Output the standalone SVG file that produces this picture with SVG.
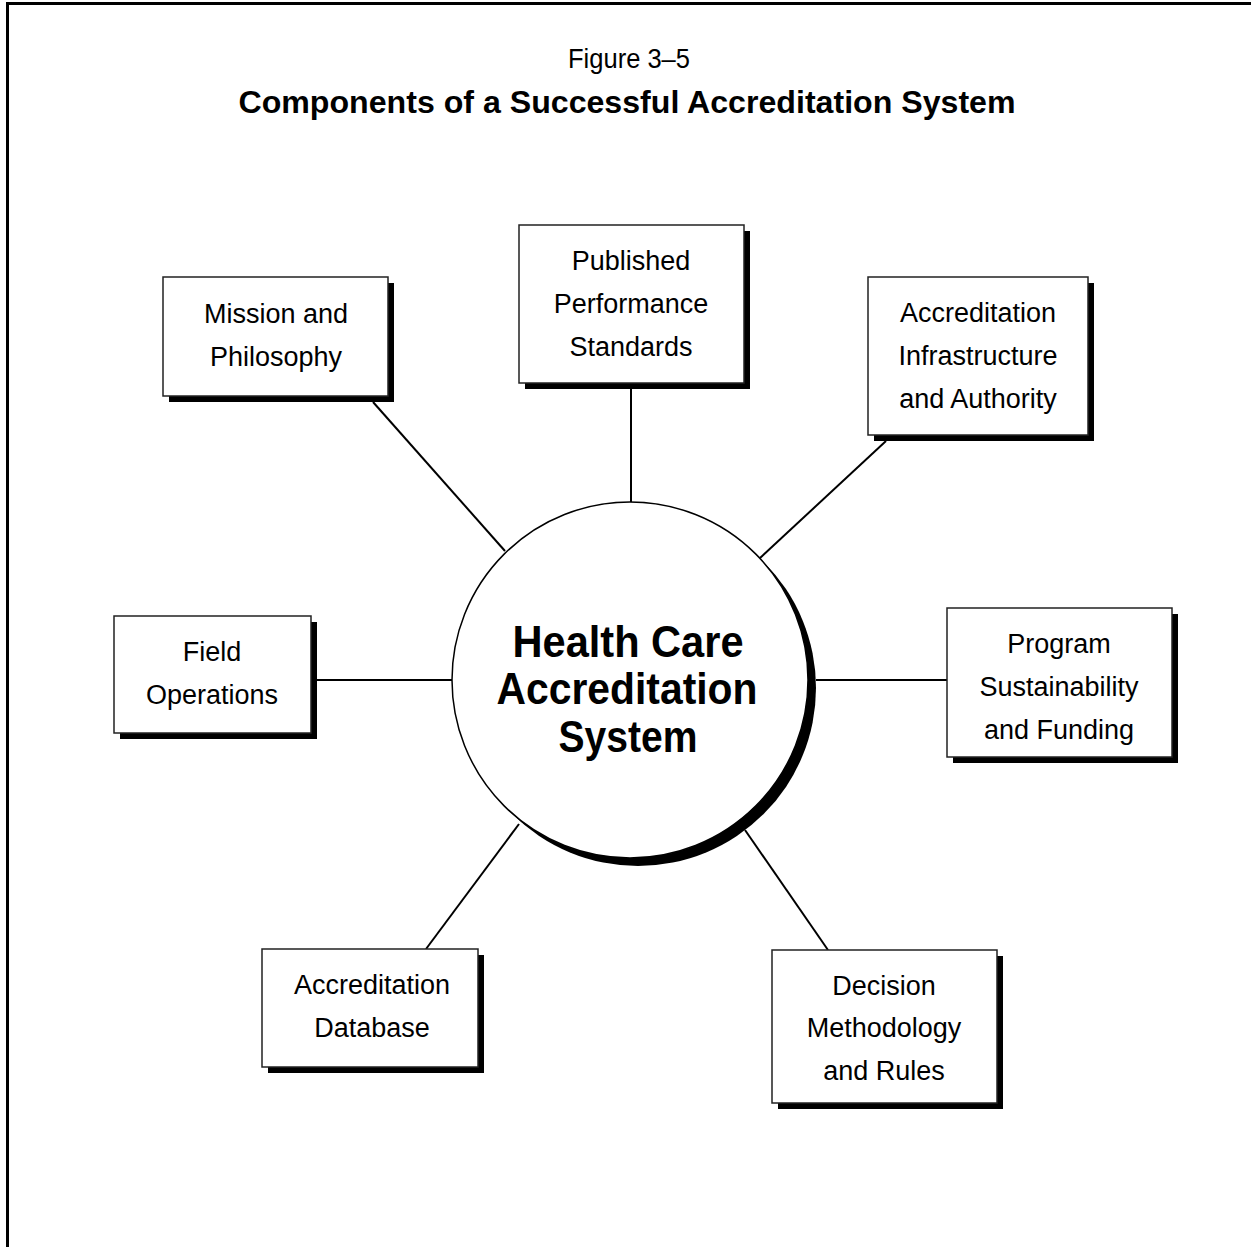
<svg xmlns="http://www.w3.org/2000/svg" width="1251" height="1247" viewBox="0 0 1251 1247">
<style>
.box{fill:#fff;stroke:#222;stroke-width:1.5}
.sh{fill:#000}
.t{font-family:"Liberation Sans",Arial,sans-serif;font-size:27px;fill:#000;text-anchor:middle}
.c{font-family:"Liberation Sans",Arial,sans-serif;font-size:45px;font-weight:bold;fill:#000;text-anchor:middle}
.conn line{stroke:#000;stroke-width:2}
</style>
<rect width="1251" height="1247" fill="#fff"/>
<g id="frame">
<line x1="6" y1="3.5" x2="1251" y2="3.5" stroke="#000" stroke-width="3"/>
<line x1="7.5" y1="2" x2="7.5" y2="1247" stroke="#000" stroke-width="3"/>
</g>
<g id="title">
<text x="629" y="68" class="t" font-size="26" textLength="122" lengthAdjust="spacingAndGlyphs">Figure 3–5</text>
<text x="627" y="113" class="t" style="font-weight:bold;font-size:31px" textLength="777" lengthAdjust="spacingAndGlyphs">Components of a Successful Accreditation System</text>
</g>
<g id="connectors" class="conn">
<line x1="373" y1="402" x2="505" y2="551"/>
<line x1="631" y1="389" x2="631" y2="502"/>
<line x1="886" y1="441" x2="760" y2="558"/>
<line x1="816" y1="680" x2="947" y2="680"/>
<line x1="316" y1="680" x2="452" y2="680"/>
<line x1="426" y1="949" x2="519" y2="824"/>
<line x1="828" y1="950" x2="745" y2="830"/>
</g>
<g id="center">
<circle cx="638" cy="688" r="178" fill="#000"/>
<circle cx="630" cy="680" r="178" fill="#fff" stroke="#000" stroke-width="1.5"/>
<text x="628" y="657" class="c" textLength="231" lengthAdjust="spacingAndGlyphs">Health Care</text>
<text x="627" y="704" class="c" textLength="261" lengthAdjust="spacingAndGlyphs">Accreditation</text>
<text x="628" y="752" class="c" textLength="139" lengthAdjust="spacingAndGlyphs">System</text>
</g>
<g id="mission">
<rect x="169" y="283" width="225" height="119" class="sh"/>
<rect x="163" y="277" width="225" height="119" class="box"/>
<text x="276" y="323" class="t">Mission and</text>
<text x="276" y="366" class="t">Philosophy</text>
</g>
<g id="published">
<rect x="525" y="231" width="225" height="158" class="sh"/>
<rect x="519" y="225" width="225" height="158" class="box"/>
<text x="631" y="270" class="t">Published</text>
<text x="631" y="313" class="t">Performance</text>
<text x="631" y="356" class="t">Standards</text>
</g>
<g id="infrastructure">
<rect x="874" y="283" width="220" height="158" class="sh"/>
<rect x="868" y="277" width="220" height="158" class="box"/>
<text x="978" y="322" class="t">Accreditation</text>
<text x="978" y="365" class="t">Infrastructure</text>
<text x="978" y="408" class="t">and Authority</text>
</g>
<g id="program">
<rect x="953" y="614" width="225" height="149" class="sh"/>
<rect x="947" y="608" width="225" height="149" class="box"/>
<text x="1059" y="653" class="t">Program</text>
<text x="1059" y="696" class="t">Sustainability</text>
<text x="1059" y="739" class="t">and Funding</text>
</g>
<g id="field">
<rect x="120" y="622" width="197" height="117" class="sh"/>
<rect x="114" y="616" width="197" height="117" class="box"/>
<text x="212" y="661" class="t">Field</text>
<text x="212" y="704" class="t">Operations</text>
</g>
<g id="database">
<rect x="268" y="955" width="216" height="118" class="sh"/>
<rect x="262" y="949" width="216" height="118" class="box"/>
<text x="372" y="994" class="t">Accreditation</text>
<text x="372" y="1037" class="t">Database</text>
</g>
<g id="decision">
<rect x="778" y="956" width="225" height="153" class="sh"/>
<rect x="772" y="950" width="225" height="153" class="box"/>
<text x="884" y="995" class="t">Decision</text>
<text x="884" y="1037" class="t">Methodology</text>
<text x="884" y="1080" class="t">and Rules</text>
</g>
</svg>
